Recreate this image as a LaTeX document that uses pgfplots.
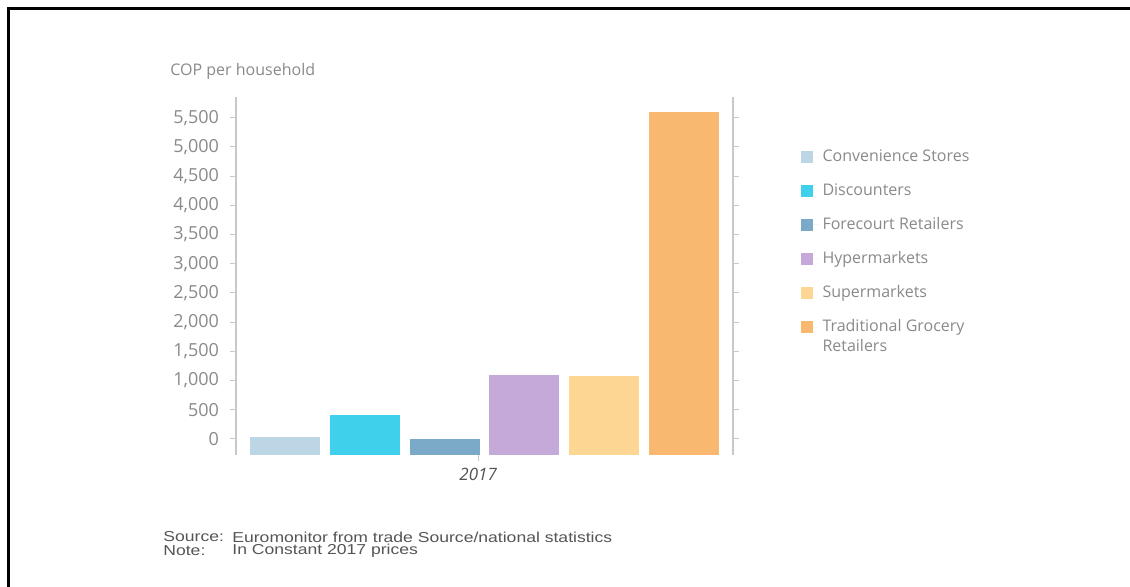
\documentclass[border=0pt]{standalone}
\usepackage{fontspec}
\setmainfont{Open Sans}
\newfontfamily\arialfont{Liberation Sans}
\usepackage{pgfplots}
\pgfplotsset{compat=1.18}
\definecolor{cConv}{HTML}{BCD6E6}
\definecolor{cDisc}{HTML}{3FD1EB}
\definecolor{cFore}{HTML}{7BAAC8}
\definecolor{cHyper}{HTML}{C5A9D9}
\definecolor{cSuper}{HTML}{FDD693}
\definecolor{cTrad}{HTML}{F9B870}
\definecolor{axgray}{HTML}{C8C8C8}
\definecolor{txtgray}{HTML}{8A8A8A}
\definecolor{srcgray}{HTML}{555555}
\begin{document}
\begin{tikzpicture}[x=0.5pt,y=0.5pt]
\useasboundingbox (0,0) rectangle (1130,587);
\fill[white] (0,0) rectangle (1130,587);
\draw[line width=1.4pt] (8.5,-10) -- (8.5,578.5) -- (1140,578.5);
\begin{axis}[
  at={(118pt,66pt)}, anchor=south west,
  scale only axis, width=248.5pt, height=179pt,
  xmin=-3.12, xmax=3.12, ymin=-275, ymax=5855,
  separate axis lines,
  x axis line style={draw=none},
  y axis line style={draw=axgray, line width=0.6pt},
  ytick={0,500,...,5500},
  ytick pos=both, yticklabel pos=left,
  xtick={-0.08}, xticklabels={2017}, xtick pos=bottom,
  tick align=outside, major tick length=3pt,
  tick style={axgray, line width=0.5pt},
  yticklabel style={font=\fontsize{9}{10}\selectfont, text=txtgray, xshift=-2pt},
  xticklabel style={font=\itshape\fontsize{8.5}{10}\selectfont, text=darkgray!90},
  /pgf/number format/.cd, 1000 sep={,}, assume math mode=true, /pgfplots/.cd,
  legend style={at={(1.135,0.865)}, anchor=north west, draw=none, fill=none,
    font=\fontsize{8}{9.5}\selectfont, text=txtgray, row sep=5.5pt, inner sep=0pt},
  legend cell align=left,
  legend image code/.code={\fill[#1] (0pt,-3pt) rectangle (6pt,3pt); \path (0pt,0pt) -- (9pt,0pt);},
]
\addplot[fill=cConv, draw=none] coordinates {(-2.94,-275) (-2.94,35) (-2.06,35) (-2.06,-275)};
\addlegendentry{Convenience Stores}
\addplot[fill=cDisc, draw=none] coordinates {(-1.94,-275) (-1.94,410) (-1.06,410) (-1.06,-275)};
\addlegendentry{Discounters}
\addplot[fill=cFore, draw=none] coordinates {(-0.94,-275) (-0.94,5) (-0.06,5) (-0.06,-275)};
\addlegendentry{Forecourt Retailers}
\addplot[fill=cHyper, draw=none] coordinates {(0.06,-275) (0.06,1095) (0.94,1095) (0.94,-275)};
\addlegendentry{Hypermarkets}
\addplot[fill=cSuper, draw=none] coordinates {(1.06,-275) (1.06,1080) (1.94,1080) (1.94,-275)};
\addlegendentry{Supermarkets}
\addplot[fill=cTrad, draw=none] coordinates {(2.06,-275) (2.06,5600) (2.94,5600) (2.94,-275)};
\addlegendentry{\rlap{\smash{\raisebox{-10pt}{Retailers}}}Traditional Grocery}
\end{axis}
\node[anchor=west, text=txtgray, font=\fontsize{8}{9}\selectfont, inner sep=0pt] at (170,516) {COP per household};
\node[anchor=west, text=srcgray, font=\arialfont\fontsize{7.2}{8}\selectfont, inner sep=0pt] at (163,50) {\scalebox{1.22}[1]{Source:}};
\node[anchor=west, text=srcgray, font=\arialfont\fontsize{7.2}{8}\selectfont, inner sep=0pt] at (232,50) {\scalebox{1.22}[1]{Euromonitor from trade Source/national statistics}};
\node[anchor=west, text=srcgray, font=\arialfont\fontsize{7.2}{8}\selectfont, inner sep=0pt] at (163,36) {\scalebox{1.22}[1]{Note:}};
\node[anchor=west, text=srcgray, font=\arialfont\fontsize{7.2}{8}\selectfont, inner sep=0pt] at (232,36) {\scalebox{1.22}[1]{In Constant 2017 prices}};
\end{tikzpicture}
\end{document}
